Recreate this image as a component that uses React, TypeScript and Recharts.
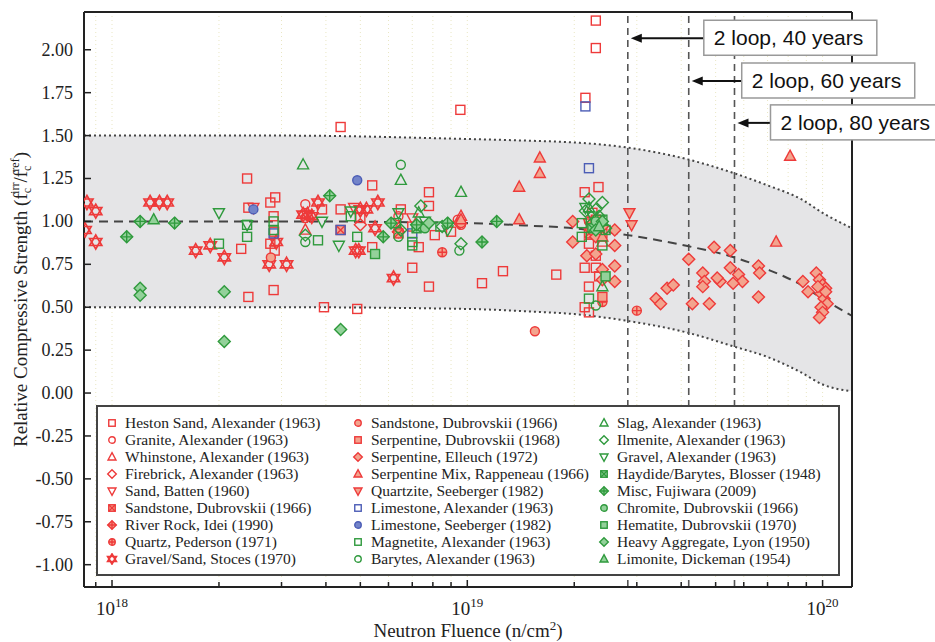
import React from "react";
import {
  ComposedChart,
  Scatter,
  Line,
  Area,
  XAxis,
  YAxis,
  CartesianGrid,
  ReferenceLine,
  ReferenceDot,
  Legend,
  Label,
} from "recharts";

const RED = "#ee3a3a";
const RED_FILL = "#f3a48e";
const GREEN = "#2f9a3d";
const GREEN_FILL = "#93d19a";
const BLUE = "#4c5db6";
const BLUE_FILL = "#7384c9";

const SERIF = "Liberation Serif, DejaVu Serif, Times New Roman, serif";
const SANS = "Liberation Sans, Arial, sans-serif";

const X_MIN = 8.34e17;
const X_MAX = 1.21e20;
const Y_MIN = -1.13;
const Y_MAX = 2.22;

const X_TICKS = [
  9e17, 1e18, 2e18, 3e18, 4e18, 5e18, 6e18, 7e18, 8e18, 9e18,
  1e19, 2e19, 3e19, 4e19, 5e19, 6e19, 7e19, 8e19, 9e19, 1e20,
];
const Y_TICKS = [-1, -0.75, -0.5, -0.25, 0, 0.25, 0.5, 0.75, 1, 1.25, 1.5, 1.75, 2];

// trend curve and the +-0.5 band
const CURVE_X = [8.34e17, 3e18, 1e19, 1.5e19, 2e19, 2.83e19, 4.2e19, 5.65e19, 7e19, 8.7e19, 1e20, 1.21e20];
const TREND_Y = [1.0, 1.0, 0.99, 0.975, 0.96, 0.92, 0.855, 0.79, 0.72, 0.63, 0.55, 0.45];
const BAND_HI = [1.5, 1.5, 1.48, 1.47, 1.46, 1.43, 1.36, 1.28, 1.21, 1.13, 1.05, 0.96];
const BAND_LO = [0.5, 0.5, 0.49, 0.475, 0.46, 0.42, 0.35, 0.27, 0.21, 0.12, 0.05, 0.01];

// 2 loop plant fluences
const LOOP_X = [2.83e19, 4.2e19, 5.65e19];
const LOOP_LABELS = ["2 loop, 40 years", "2 loop, 60 years", "2 loop, 80 years"];
const LOOP_ARROW_Y = [2.067, 1.818, 1.574];
const LOOP_BOX_DX = [76, 53, 36];

type Pt = [number, number];

const hestonSand: Pt[] = [
  [2.4e18, 1.25], [2.42e18, 1.08], [2.31e18, 0.84], [2.42e18, 0.56], [2.79e18, 1.11],
  [2.88e18, 1.14], [2.79e18, 0.87], [2.85e18, 0.6], [2.85e18, 1.03], [2.87e18, 0.83],
  [2.86e18, 0.94], [3.9e18, 1.07], [4.4e18, 1.07], [3.95e18, 0.5], [4.4e18, 1.55],
  [4.9e18, 0.49], [5.4e18, 1.21], [5.4e18, 0.85], [5.0e18, 1.02], [6.5e18, 1.07],
  [7.8e18, 1.17], [7.8e18, 1.09], [7.0e18, 0.73], [7.8e18, 0.62], [7.3e18, 0.85],
  [8.1e18, 0.92], [9.0e18, 0.94], [7.0e18, 0.97], [9.56e18, 1.65], [1.26e19, 0.71],
  [1.1e19, 0.64], [1.78e19, 0.69], [2.34e19, 1.2], [2.14e19, 1.17], [2.14e19, 0.73],
  [2.3e19, 0.73], [2.2e19, 0.87], [2.2e19, 0.62], [2.14e19, 0.5], [2.2e19, 0.47],
  [2.35e19, 0.68], [2.3e19, 2.17], [2.3e19, 2.01], [2.15e19, 1.72], [2.3e19, 0.8],
  [2.4e19, 0.93], [2.25e19, 1.05],
];
const granite: Pt[] = [[3.5e18, 1.1], [6.4e18, 1.03], [9.6e18, 0.98], [9.4e18, 1.01], [2.2e19, 1.0], [3.5e18, 1.02]];
const whinstone: Pt[] = [[3.5e18, 0.95], [9.6e18, 1.03], [2.4e19, 0.88], [2.35e19, 0.96], [6.4e18, 0.96]];
const firebrick: Pt[] = [[6.4e18, 0.94], [2.3e19, 0.96], [5.0e18, 0.98]];
const sandBatten: Pt[] = [[2.5e18, 1.08], [4.8e18, 1.08], [5.0e18, 1.06], [7.0e18, 1.02], [2.2e19, 0.99]];
const sandstoneDub: Pt[] = [[4.4e18, 0.95], [6.4e18, 0.93], [2.2e19, 0.93]];
const riverRock: Pt[] = [[2.25e19, 0.99], [9.5e18, 0.99]];
const quartz: Pt[] = [[8.5e18, 0.82], [3.0e19, 0.48], [2.4e19, 0.53]];
const gravelStoces: Pt[] = [
  [8.5e17, 1.11], [9.0e17, 1.06], [8.4e17, 0.95], [9.0e17, 0.88], [1.28e18, 1.11],
  [1.36e18, 1.11], [1.43e18, 1.11], [1.72e18, 0.83], [1.89e18, 0.86], [2.07e18, 0.79],
  [2.77e18, 0.75], [3.1e18, 0.75], [2.9e18, 0.88], [3.45e18, 1.04], [3.55e18, 1.04],
  [3.65e18, 1.03], [3.8e18, 1.11], [4.85e18, 0.83], [4.95e18, 0.83], [5.0e18, 1.07],
  [5.2e18, 1.07], [5.6e18, 1.11], [5.5e18, 0.96], [6.2e18, 0.67],
];
const sandstoneDubCircle: Pt[] = [[2.8e18, 0.79], [1.55e19, 0.36], [9.6e18, 0.99]];
const serpentineDub: Pt[] = [[2.4e19, 0.56], [2.3e19, 1.01]];
const serpentineElleuch: Pt[] = [
  [1.98e19, 1.0], [1.98e19, 0.88], [2.17e19, 0.8], [2.3e19, 0.81], [2.4e19, 0.72],
  [2.4e19, 0.66], [2.6e19, 0.95], [2.6e19, 0.86], [2.6e19, 0.74], [2.6e19, 0.65],
  [2.4e19, 0.97], [2.3e19, 0.91], [4.2e19, 0.78], [3.4e19, 0.55], [3.5e19, 0.52],
  [3.65e19, 0.61], [3.8e19, 0.63], [4.6e19, 0.7], [4.65e19, 0.65], [4.6e19, 0.62],
  [4.3e19, 0.52], [4.8e19, 0.52], [4.95e19, 0.85], [5.15e19, 0.65], [5.5e19, 0.83],
  [5.5e19, 0.73], [5.8e19, 0.69], [5.95e19, 0.65], [5.6e19, 0.64], [6.6e19, 0.56],
  [6.6e19, 0.74], [6.65e19, 0.7], [9.6e19, 0.7], [8.8e19, 0.65], [9.1e19, 0.59],
  [9.8e19, 0.66], [1.0e20, 0.63], [1.02e20, 0.61], [9.9e19, 0.58], [1.01e20, 0.55],
  [1.03e20, 0.52], [9.9e19, 0.5], [1.0e20, 0.47], [9.8e19, 0.44], [1.02e20, 0.59],
  [9.7e19, 0.62], [5.05e19, 0.67],
];
const serpentineMix: Pt[] = [
  [1.6e19, 1.37], [1.6e19, 1.28], [1.4e19, 1.2], [1.4e19, 1.01], [7.4e19, 0.88],
  [8.1e19, 1.38], [2.4e19, 0.91], [9.6e18, 1.01],
];
const quartzite: Pt[] = [[2.86e19, 1.05], [2.9e19, 0.98]];
const limestoneAlex: Pt[] = [[2.15e19, 1.67], [2.2e19, 1.31], [2.85e18, 0.93], [4.4e18, 0.95], [7.0e18, 0.93]];
const limestoneSeeb: Pt[] = [[2.5e18, 1.07], [4.9e18, 1.24]];
const magnetite: Pt[] = [
  [2.0e18, 0.87], [2.4e18, 0.91], [2.4e18, 0.98], [2.85e18, 1.0], [2.85e18, 0.95],
  [3.8e18, 0.89], [4.9e18, 0.91], [4.7e18, 1.03], [7.0e18, 0.86], [7.0e18, 0.88],
  [2.1e19, 0.91], [2.2e19, 0.55], [2.4e19, 0.86], [2.4e19, 1.01], [2.1e19, 0.99],
  [6.3e18, 0.99], [8.4e18, 0.97], [2.45e19, 0.95],
];
const barytes: Pt[] = [[6.5e18, 1.33], [3.5e18, 0.88], [9.5e18, 0.83], [2.3e19, 0.51], [6.4e18, 0.91]];
const slag: Pt[] = [[3.45e18, 1.33], [6.5e18, 1.24], [9.6e18, 1.17], [2.4e19, 0.62], [2.2e19, 1.08], [7.3e18, 1.05]];
const ilmenite: Pt[] = [
  [2.2e19, 1.13], [2.4e19, 1.11], [2.3e19, 1.07], [2.15e19, 1.06], [2.35e19, 1.03],
  [2.25e19, 0.99], [9.6e18, 0.87], [7.4e18, 1.09], [6.5e18, 0.95], [2.45e19, 0.96],
  [8.5e18, 0.97], [3.5e18, 0.92],
];
const gravelAlex: Pt[] = [
  [2.0e18, 1.05], [2.4e18, 0.98], [3.9e18, 1.0], [4.35e18, 0.86], [4.7e18, 1.06],
  [7.6e18, 1.0], [2.15e19, 1.08], [2.25e19, 1.03], [6.4e18, 1.05], [8.8e18, 0.95],
];
const haydide: Pt[] = [[2.3e19, 0.99], [2.25e19, 0.96], [7.2e18, 0.96]];
const miscFujiwara: Pt[] = [
  [1.1e18, 0.91], [1.2e18, 1.0], [1.5e18, 0.99], [4.1e18, 1.15], [6.1e18, 0.99],
  [5.8e18, 0.91], [7.2e18, 0.98], [8.8e18, 0.99], [1.21e19, 1.0], [1.1e19, 0.88],
  [2.35e19, 0.98],
];
const chromite: Pt[] = [[2.3e19, 1.0], [7.6e18, 0.96]];
const hematite: Pt[] = [[5.5e18, 0.81], [2.45e19, 0.68]];
const heavyAggregate: Pt[] = [
  [1.2e18, 0.61], [1.2e18, 0.57], [2.07e18, 0.59], [2.07e18, 0.3], [4.4e18, 0.37],
  [2.3e19, 0.95], [2.4e19, 1.0], [7.8e18, 0.99],
];
const limonite: Pt[] = [[1.31e18, 1.01], [2.35e19, 0.97]];

type Kind =
  | "square" | "circle" | "triUp" | "triDown" | "diamond"
  | "squareX" | "diamondPlus" | "circlePlus" | "hexagram";

interface SeriesDef {
  name: string;
  kind: Kind;
  color: string;
  fill: string;
  data: Pt[];
}

const SERIES: SeriesDef[] = [
  { name: "Heston Sand, Alexander (1963)", kind: "square", color: RED, fill: "none", data: hestonSand },
  { name: "Granite, Alexander (1963)", kind: "circle", color: RED, fill: "none", data: granite },
  { name: "Whinstone, Alexander (1963)", kind: "triUp", color: RED, fill: "none", data: whinstone },
  { name: "Firebrick, Alexander (1963)", kind: "diamond", color: RED, fill: "none", data: firebrick },
  { name: "Sand, Batten (1960)", kind: "triDown", color: RED, fill: "none", data: sandBatten },
  { name: "Sandstone, Dubrovskii (1966)", kind: "squareX", color: RED, fill: RED_FILL, data: sandstoneDub },
  { name: "River Rock, Idei (1990)", kind: "diamondPlus", color: RED, fill: RED_FILL, data: riverRock },
  { name: "Quartz, Pederson (1971)", kind: "circlePlus", color: RED, fill: RED_FILL, data: quartz },
  { name: "Gravel/Sand, Stoces (1970)", kind: "hexagram", color: RED, fill: "none", data: gravelStoces },
  { name: "Sandstone, Dubrovskii (1966)", kind: "circle", color: RED, fill: RED_FILL, data: sandstoneDubCircle },
  { name: "Serpentine, Dubrovskii (1968)", kind: "square", color: RED, fill: RED_FILL, data: serpentineDub },
  { name: "Serpentine, Elleuch (1972)", kind: "diamond", color: RED, fill: RED_FILL, data: serpentineElleuch },
  { name: "Serpentine Mix, Rappeneau (1966)", kind: "triUp", color: RED, fill: RED_FILL, data: serpentineMix },
  { name: "Quartzite, Seeberger (1982)", kind: "triDown", color: RED, fill: RED_FILL, data: quartzite },
  { name: "Limestone, Alexander (1963)", kind: "square", color: BLUE, fill: "none", data: limestoneAlex },
  { name: "Limestone, Seeberger (1982)", kind: "circle", color: BLUE, fill: BLUE_FILL, data: limestoneSeeb },
  { name: "Magnetite, Alexander (1963)", kind: "square", color: GREEN, fill: "none", data: magnetite },
  { name: "Barytes, Alexander (1963)", kind: "circle", color: GREEN, fill: "none", data: barytes },
  { name: "Slag, Alexander (1963)", kind: "triUp", color: GREEN, fill: "none", data: slag },
  { name: "Ilmenite, Alexander (1963)", kind: "diamond", color: GREEN, fill: "none", data: ilmenite },
  { name: "Gravel, Alexander (1963)", kind: "triDown", color: GREEN, fill: "none", data: gravelAlex },
  { name: "Haydide/Barytes, Blosser (1948)", kind: "squareX", color: GREEN, fill: GREEN_FILL, data: haydide },
  { name: "Misc, Fujiwara (2009)", kind: "diamondPlus", color: GREEN, fill: GREEN_FILL, data: miscFujiwara },
  { name: "Chromite, Dubrovskii (1966)", kind: "circle", color: GREEN, fill: GREEN_FILL, data: chromite },
  { name: "Hematite, Dubrovskii (1970)", kind: "square", color: GREEN, fill: GREEN_FILL, data: hematite },
  { name: "Heavy Aggregate, Lyon (1950)", kind: "diamond", color: GREEN, fill: GREEN_FILL, data: heavyAggregate },
  { name: "Limonite, Dickeman (1954)", kind: "triUp", color: GREEN, fill: GREEN_FILL, data: limonite },
];

const SIZE: Record<Kind, number> = {
  square: 9, circle: 9, triUp: 11, triDown: 11, diamond: 12,
  squareX: 9, diamondPlus: 12, circlePlus: 9, hexagram: 14,
};

function Glyph({ kind, x, y, scale, color, fill }: {
  kind: Kind; x: number; y: number; scale: number; color: string; fill: string;
}) {
  const s = SIZE[kind] * scale;
  const h = s / 2;
  const sw = kind === "hexagram" ? 1.7 : 1.4;
  const common = { stroke: color, strokeWidth: sw, fill };
  switch (kind) {
    case "square":
      return <rect x={x - h} y={y - h} width={s} height={s} {...common} />;
    case "circle":
      return <circle cx={x} cy={y} r={h} {...common} />;
    case "triUp":
      return <polygon points={`${x},${y - h * 1.1} ${x + h},${y + h * 0.75} ${x - h},${y + h * 0.75}`} {...common} />;
    case "triDown":
      return <polygon points={`${x},${y + h * 1.1} ${x + h},${y - h * 0.75} ${x - h},${y - h * 0.75}`} {...common} />;
    case "diamond":
      return <polygon points={`${x},${y - h} ${x + h},${y} ${x},${y + h} ${x - h},${y}`} {...common} />;
    case "squareX":
      return (
        <g>
          <rect x={x - h} y={y - h} width={s} height={s} {...common} />
          <path d={`M${x - h} ${y - h}L${x + h} ${y + h}M${x + h} ${y - h}L${x - h} ${y + h}`} stroke={color} strokeWidth={sw} />
        </g>
      );
    case "diamondPlus":
      return (
        <g>
          <polygon points={`${x},${y - h} ${x + h},${y} ${x},${y + h} ${x - h},${y}`} {...common} />
          <path d={`M${x} ${y - h}L${x} ${y + h}M${x - h} ${y}L${x + h} ${y}`} stroke={color} strokeWidth={sw} />
        </g>
      );
    case "circlePlus":
      return (
        <g>
          <circle cx={x} cy={y} r={h} {...common} />
          <path d={`M${x} ${y - h}L${x} ${y + h}M${x - h} ${y}L${x + h} ${y}`} stroke={color} strokeWidth={sw} />
        </g>
      );
    case "hexagram": {
      const r = h;
      const tri = (a0: number) =>
        [0, 1, 2]
          .map((k) => {
            const a = ((a0 + k * 120) * Math.PI) / 180;
            return `${x + r * Math.cos(a)},${y + r * Math.sin(a)}`;
          })
          .join(" ");
      return (
        <g>
          <polygon points={tri(-90)} {...common} />
          <polygon points={tri(90)} {...common} />
        </g>
      );
    }
  }
  return null;
}

const XTick = (props: any) => {
  const { x, y, payload } = props;
  const v = payload.value as number;
  const exp = Math.round(Math.log10(v));
  const major = Math.abs(v - Math.pow(10, exp)) < v * 1e-6;
  return (
    <g>
      <line x1={x} x2={x} y1={y} y2={y - (major ? 7 : 5)} stroke="#222" strokeWidth={1.5} />
      {major && (
        <text x={x} y={y + 28} textAnchor="middle" fontFamily={SERIF} fontSize={19} fill="#222">
          10<tspan dy={-8} fontSize={13}>{exp}</tspan>
        </text>
      )}
    </g>
  );
};

const YTick = (props: any) => {
  const { x, y, payload } = props;
  return (
    <g>
      <line x1={x} x2={x + 7} y1={y} y2={y} stroke="#222" strokeWidth={1.5} />
      <text x={x - 11} y={y + 6} textAnchor="end" fontFamily={SERIF} fontSize={18} fill="#222">
        {(payload.value as number).toFixed(2)}
      </text>
    </g>
  );
};

const YLabel = (props: any) => {
  const vb = props.viewBox;
  const cx = vb.x + 27;
  const cy = vb.y + vb.height / 2;
  return (
    <text transform={`translate(${cx},${cy}) rotate(-90)`} textAnchor="middle" fontFamily={SERIF} fontSize={19} fill="#222">
      Relative Compressive Strength (f
      <tspan fontSize={12} dy={4}>c</tspan>
      <tspan fontSize={12} dx={-6} dy={-12}>irr</tspan>
      <tspan dy={8}>/f</tspan>
      <tspan fontSize={12} dy={4}>c</tspan>
      <tspan fontSize={12} dx={-6} dy={-12}>ref</tspan>
      <tspan dy={8}>)</tspan>
    </text>
  );
};

const XLabel = (props: any) => {
  const vb = props.viewBox;
  return (
    <text x={vb.x + vb.width / 2} y={vb.y + 50} textAnchor="middle" fontFamily={SERIF} fontSize={19} fill="#222">
      Neutron Fluence (n/cm<tspan dy={-7} fontSize={13}>2</tspan>
      <tspan dy={7}>)</tspan>
    </text>
  );
};

const Callout = ({ cx, cy, text, dx }: { cx: number; cy: number; text: string; dx: number }) => (
  <g>
    <line x1={cx + dx} y1={cy} x2={cx + 10} y2={cy} stroke="#111" strokeWidth={2} />
    <polygon points={`${cx + 3},${cy} ${cx + 14},${cy - 4.5} ${cx + 14},${cy + 4.5}`} fill="#111" />
    <rect x={cx + dx} y={cy - 18} width={173} height={35} fill="#fff" stroke="#999" strokeWidth={1.5} />
    <text x={cx + dx + 10} y={cy + 7} fontFamily={SANS} fontSize={21} fill="#111">
      {text}
    </text>
  </g>
);

const LegendBox = () => (
  <div
    style={{
      boxSizing: "border-box",
      width: 744,
      height: 171,
      border: "2px solid #444",
      background: "#fff",
      display: "grid",
      gridTemplateColumns: "246px 246px 246px",
      gridTemplateRows: "repeat(9, 17px)",
      gridAutoFlow: "column",
      paddingTop: 7,
      paddingLeft: 8,
      fontFamily: SERIF,
      fontSize: 15.5,
      color: "#222",
    }}
  >
    {SERIES.map((s, i) => (
      <div key={i} style={{ display: "flex", alignItems: "center", whiteSpace: "nowrap", lineHeight: "17px" }}>
        <svg width={12} height={12} style={{ marginRight: 7, flex: "none" }}>
          <Glyph kind={s.kind} x={6} y={6} scale={0.72} color={s.color} fill={s.fill} />
        </svg>
        <span>{s.name}</span>
      </div>
    ))}
  </div>
);

export default function App() {
  const trendData = CURVE_X.map((x, i) => ({ x, y: TREND_Y[i] }));
  const bandData = CURVE_X.map((x, i) => ({
    x,
    lo: BAND_LO[i],
    hi: BAND_HI[i],
    range: [BAND_LO[i], BAND_HI[i]],
  }));

  return (
    <div style={{ position: "absolute", left: 0, top: 0, width: 935, height: 642, background: "#fff", fontFamily: SERIF }}>
      <ComposedChart width={935} height={642} margin={{ top: 12, right: 83, bottom: 0, left: 0 }}>
        <CartesianGrid vertical horizontal={false} stroke="#e9e6c4" strokeDasharray="1 3" />
        <XAxis
          dataKey="x"
          type="number"
          scale="log"
          domain={[X_MIN, X_MAX]}
          allowDataOverflow
          ticks={X_TICKS}
          interval={0}
          tick={XTick}
          tickSize={0}
          tickMargin={0}
          tickLine={false}
          axisLine={{ stroke: "#222", strokeWidth: 2 }}
          height={55}
        >
          <Label content={XLabel} />
        </XAxis>
        <YAxis
          dataKey="y"
          type="number"
          domain={[Y_MIN, Y_MAX]}
          allowDataOverflow
          ticks={Y_TICKS}
          interval={0}
          tick={YTick}
          tickSize={0}
          tickMargin={0}
          tickLine={false}
          axisLine={{ stroke: "#222", strokeWidth: 2 }}
          width={84}
        >
          <Label content={YLabel} />
        </YAxis>

        <Area
          data={bandData}
          dataKey="range"
          type="monotone"
          fill="#e5e5e7"
          fillOpacity={1}
          stroke="none"
          isAnimationActive={false}
          activeDot={false}
        />
        <Line data={bandData} dataKey="hi" type="monotone" stroke="#444" strokeWidth={2} strokeDasharray="2 3" dot={false} activeDot={false} isAnimationActive={false} />
        <Line data={bandData} dataKey="lo" type="monotone" stroke="#444" strokeWidth={2} strokeDasharray="2 3" dot={false} activeDot={false} isAnimationActive={false} />

        {LOOP_X.map((x) => (
          <ReferenceLine key={x} x={x} stroke="#555" strokeWidth={1.6} strokeDasharray="7 5" ifOverflow="visible" />
        ))}

        <Line data={trendData} dataKey="y" type="monotone" stroke="#444" strokeWidth={2} strokeDasharray="9 6" dot={false} activeDot={false} isAnimationActive={false} />

        {SERIES.map((s, i) => (
          <Scatter
            key={i}
            name={s.name}
            data={s.data.map(([x, y]) => ({ x, y }))}
            isAnimationActive={false}
            shape={(p: any) => <Glyph kind={s.kind} x={p.cx} y={p.cy} scale={1} color={s.color} fill={s.fill} />}
          />
        ))}

        <ReferenceLine y={Y_MAX} stroke="#222" strokeWidth={2} ifOverflow="visible" />
        <ReferenceLine x={X_MAX} stroke="#222" strokeWidth={2} ifOverflow="visible" />

        {LOOP_X.map((x, i) => (
          <ReferenceDot
            key={"c" + i}
            x={x}
            y={LOOP_ARROW_Y[i]}
            ifOverflow="visible"
            shape={(p: any) => <Callout cx={p.cx} cy={p.cy} text={LOOP_LABELS[i]} dx={LOOP_BOX_DX[i]} />}
          />
        ))}

        <Legend
          layout="horizontal"
          verticalAlign="middle"
          align="center"
          wrapperStyle={{ left: 96, top: 405, width: 744, height: 171 }}
          content={() => <LegendBox />}
        />
      </ComposedChart>
    </div>
  );
}
